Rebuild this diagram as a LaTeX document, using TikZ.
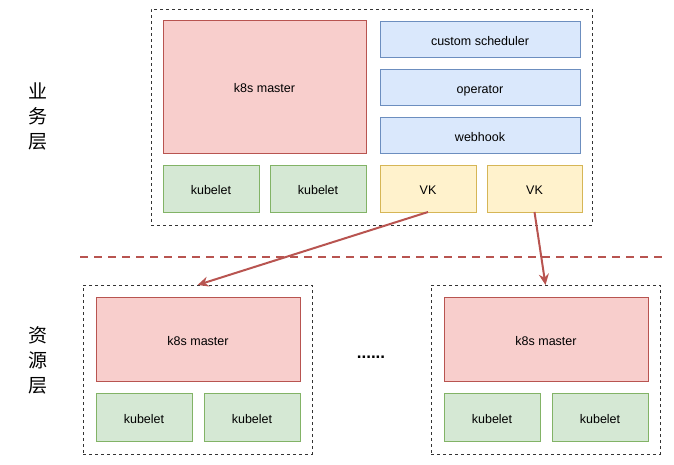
\documentclass[tikz,border=0pt]{standalone}
\usepackage{fontspec}
\setmainfont{Liberation Sans}
\newfontfamily\cjk{Noto Sans CJK SC}
\usetikzlibrary{arrows.meta}
\definecolor{redF}{HTML}{F8CECC}\definecolor{redD}{HTML}{B85450}
\definecolor{bluF}{HTML}{DAE8FC}\definecolor{bluD}{HTML}{6C8EBF}
\definecolor{grnF}{HTML}{D5E8D4}\definecolor{grnD}{HTML}{82B366}
\definecolor{ylwF}{HTML}{FFF2CC}\definecolor{ylwD}{HTML}{D6B656}
\begin{document}
\begin{tikzpicture}[x=1pt,y=-1pt,
  base/.style={anchor=north west,outer sep=0pt,inner sep=0pt,line width=1pt,font=\fontsize{12.5}{14}\selectfont,text height=12pt,text depth=0pt},
  redbox/.style={base,fill=redF,draw=redD},
  blubox/.style={base,fill=bluF,draw=bluD},
  grnbox/.style={base,fill=grnF,draw=grnD},
  ylwbox/.style={base,fill=ylwF,draw=ylwD},
  group/.style={anchor=north west,outer sep=0pt,inner sep=0pt,draw=black!80,line width=1pt,dash pattern=on 3pt off 3pt},
  link/.style={draw=redD,line width=2pt,-{Stealth[length=11pt,width=10pt]}},
  layer/.style={font=\cjk\fontsize{19}{25}\selectfont,align=center}
]
\useasboundingbox (0,0) rectangle (674,464);
% top group
\node[group,minimum width=441,minimum height=216] (top) at (151,9) {};
\node[redbox,minimum width=203,minimum height=133] (tm) at (163,20) {k8s master};
\node[blubox,minimum width=200,minimum height=36] (cs) at (380,21) {custom scheduler};
\node[blubox,minimum width=200,minimum height=36] (op) at (380,69) {operator};
\node[blubox,minimum width=200,minimum height=36] (wh) at (380,117) {webhook};
\node[grnbox,minimum width=96,minimum height=47] (tk1) at (163,165) {kubelet};
\node[grnbox,minimum width=96,minimum height=47] (tk2) at (270,165) {kubelet};
\node[ylwbox,minimum width=96,minimum height=47] (vk1) at (380,165) {VK};
\node[ylwbox,minimum width=95,minimum height=47] (vk2) at (487,165) {VK};
% separator
\coordinate (s1) at (80,257);
\coordinate (s2) at (666,257);
\draw[draw=redD,line width=2pt,dash pattern=on 8pt off 6pt] (s1) -- (s2);
% bottom left
\node[group,minimum width=229,minimum height=169] (bl) at (83,285) {};
\node[redbox,minimum width=204,minimum height=84] (blm) at (96,297) {k8s master};
\node[grnbox,minimum width=96,minimum height=48] (blk1) at (96,393) {kubelet};
\node[grnbox,minimum width=96,minimum height=48] (blk2) at (204,393) {kubelet};
% bottom right
\node[group,minimum width=229,minimum height=169] (br) at (431,285) {};
\node[redbox,minimum width=204,minimum height=84] (brm) at (444,297) {k8s master};
\node[grnbox,minimum width=96,minimum height=48] (brk1) at (444,393) {kubelet};
\node[grnbox,minimum width=96,minimum height=48] (brk2) at (552,393) {kubelet};
% dots
\node[font=\bfseries\fontsize{17}{18}\selectfont] (dots) at (371,357) {......};
% layer labels
\node[layer] (l1) at (38,116) {业\\务\\层};
\node[layer] (l2) at (38,360) {资\\源\\层};
% arrows
\draw[link] (vk1.south) -- (bl.north);
\draw[link] (vk2.south) -- (br.north);
\end{tikzpicture}
\end{document}
